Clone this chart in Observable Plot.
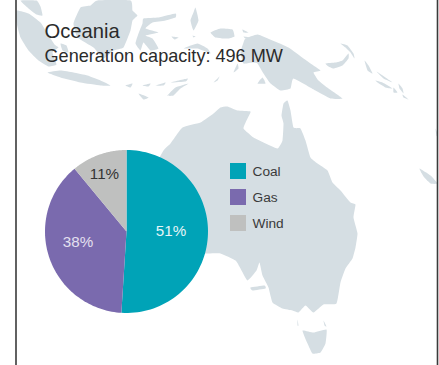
<!DOCTYPE html>
<html><head><meta charset="utf-8">
<script src="https://cdn.jsdelivr.net/npm/d3@7"></script>
<script src="https://cdn.jsdelivr.net/npm/@observablehq/plot@0.6"></script>
<style>html,body{margin:0;padding:0;background:#fff}svg{display:block}</style>
</head><body><div id="c"></div><script>
const categories=["Coal","Gas","Wind"];
const shares=[51,38,11];
const colors=["#00a3b7","#7a6aae","#bfc0bf"];
const landOutlines=[
[[220,107],[227,106],[237,110],[250,111],[247,118],[243,128],[253,137],[263,142],[277,148],[282,140],[283,123],[281,115],[283,103],[287,100],[290,110],[293,127],[300,128],[305,140],[310,157],[317,163],[327,170],[332,182],[340,190],[350,202],[355,204],[353,217],[357,233],[355,247],[352,258],[345,268],[340,282],[336,303],[323,304],[313,312],[305,305],[298,312],[292,310],[282,308],[272,302],[268,287],[262,275],[259,262],[256,270],[247,280],[240,268],[235,260],[220,253],[205,253],[160,250],[150,210],[150,175],[163,150],[170,143],[182,127],[200,122],[213,113]],
[[302,330],[313,332],[326,329],[325,343],[320,352],[312,353],[307,343]],
[[250,287],[264,285],[265,288],[252,290]],
[[297,319],[298,325],[297,325]],
[[323,320],[326,326],[324,325]],
[[243,42],[245,38],[257,34],[272,40],[288,47],[303,58],[310,63],[320,70],[313,72],[318,80],[328,88],[342,98],[330,98],[315,90],[293,78],[290,88],[280,90],[270,83],[263,73],[257,63],[252,62],[243,63],[240,52]],
[[210,32],[220,28],[232,29],[234,36],[228,38],[222,38],[215,37]],
[[242,29],[248,32],[243,32]],
[[243,36],[250,37],[245,38]],
[[233,72],[237,63],[238,68]],
[[257,83],[262,77],[265,83]],
[[325,63],[335,62],[342,60],[348,53],[348,58],[342,65],[333,68],[328,66]],
[[340,43],[347,45],[353,53],[354,58],[350,52],[345,47]],
[[364,60],[368,65],[372,73],[367,70]],
[[376,71],[385,77],[392,82],[383,78]],
[[375,80],[382,82],[392,88],[385,87],[377,82]],
[[393,87],[397,92],[393,92]],
[[398,83],[402,88],[403,93],[399,88]],
[[402,94],[408,99],[403,97]],
[[435,128],[437,133],[436,136]],
[[419,168],[430,175],[437,183],[430,183],[423,176]],
[[16,10],[28,13],[40,22],[47,33],[54,44],[58,47],[52,52],[56,64],[48,66],[38,60],[28,50],[20,37],[16,22]],
[[20,0],[36,0],[40,6],[42,15],[36,14],[28,8]],
[[60,43],[66,45],[68,52],[62,50]],
[[47,72],[60,70],[73,72],[87,75],[100,80],[110,85],[100,85],[80,82],[60,77]],
[[80,7],[90,5],[97,0],[130,0],[132,10],[137,15],[132,20],[130,30],[123,47],[113,50],[103,58],[93,47],[77,37],[73,23]],
[[143,18],[158,17],[175,13],[175,17],[165,20],[152,22],[145,28],[158,32],[145,35],[152,38],[158,48],[150,50],[143,42],[140,50],[135,43],[138,33],[142,23]],
[[195,7],[198,20],[193,30],[190,20],[193,12]],
[[171,36],[178,37],[174,39]],
[[192,35],[195,36],[193,37]],
[[183,48],[197,43],[207,48],[210,53],[197,48]],
[[167,95],[175,87],[188,83],[180,88],[173,95]],
[[125,85],[132,83],[130,87]],
[[142,85],[150,83],[148,86]],
[[155,85],[165,82],[163,85]],
[[170,82],[187,78],[185,81]],
[[138,93],[148,97],[143,99]],
[[213,82],[219,76],[217,80]]
];
const W=439,H=365;
const cx=126,cy=231,R=81.5;
const land=landOutlines.flatMap((o,i)=>o.map(([x,y])=>({x,y,i})));
const pie=d3.pie().sort(null)(shares);
const slices=pie.flatMap((a,i)=>{
  const pts=[{x:cx,y:cy,c:categories[i]}];
  const n=80;
  for(let k=0;k<=n;k++){const t=a.startAngle+(a.endAngle-a.startAngle)*k/n;
    pts.push({x:cx+R*Math.sin(t),y:cy-R*Math.cos(t),c:categories[i]});}
  return pts;
});
const titleRows=[{t:"Oceania",x:44,y:31,s:20.2},{t:"Generation capacity: 496 MW",x:44,y:56,s:18.1}];
const pieLabelRows=[{t:"51%",x:170.5,y:231,f:"#e6f5f7"},{t:"38%",x:77.5,y:242,f:"#e4e0f0"},{t:"11%",x:104,y:174,f:"#333"}];
const legendRows=categories.map((c,i)=>({c,y:171+26*i}));
const frame=[15.5,437];
const font="'Liberation Sans', Arial, sans-serif";
const chart=Plot.plot({
  width:W,height:H,margin:0,
  style:{background:"#fff",fontFamily:font},
  x:{domain:[0,W],range:[0,W],axis:null},
  y:{domain:[0,H],range:[0,H],axis:null},
  color:{domain:categories,range:colors},
  marks:[
    Plot.line(land,{x:"x",y:"y",z:"i",fill:"#d5dee3",stroke:"none",curve:"cardinal-closed",tension:0.6}),
    Plot.ruleX(frame,{stroke:"#3a3a3a",strokeWidth:1.6}),
    Plot.line(slices,{x:"x",y:"y",z:"c",fill:"c",stroke:"none"}),
    Plot.text(titleRows,{x:"x",y:"y",text:"t",fontSize:"s",textAnchor:"start",fill:"#2b2b2b"}),
    Plot.text(pieLabelRows,{x:"x",y:"y",text:"t",fill:"f",fontSize:15.2}),
    Plot.rect(legendRows,{x1:230,x2:246,y1:d=>d.y-8,y2:d=>d.y+8,fill:"c"}),
    Plot.text(legendRows,{x:252,y:d=>d.y+0.5,text:"c",textAnchor:"start",fontSize:13.7,fill:"#3a3a3a"})
  ]
});
document.getElementById("c").append(chart);
</script></body></html>
